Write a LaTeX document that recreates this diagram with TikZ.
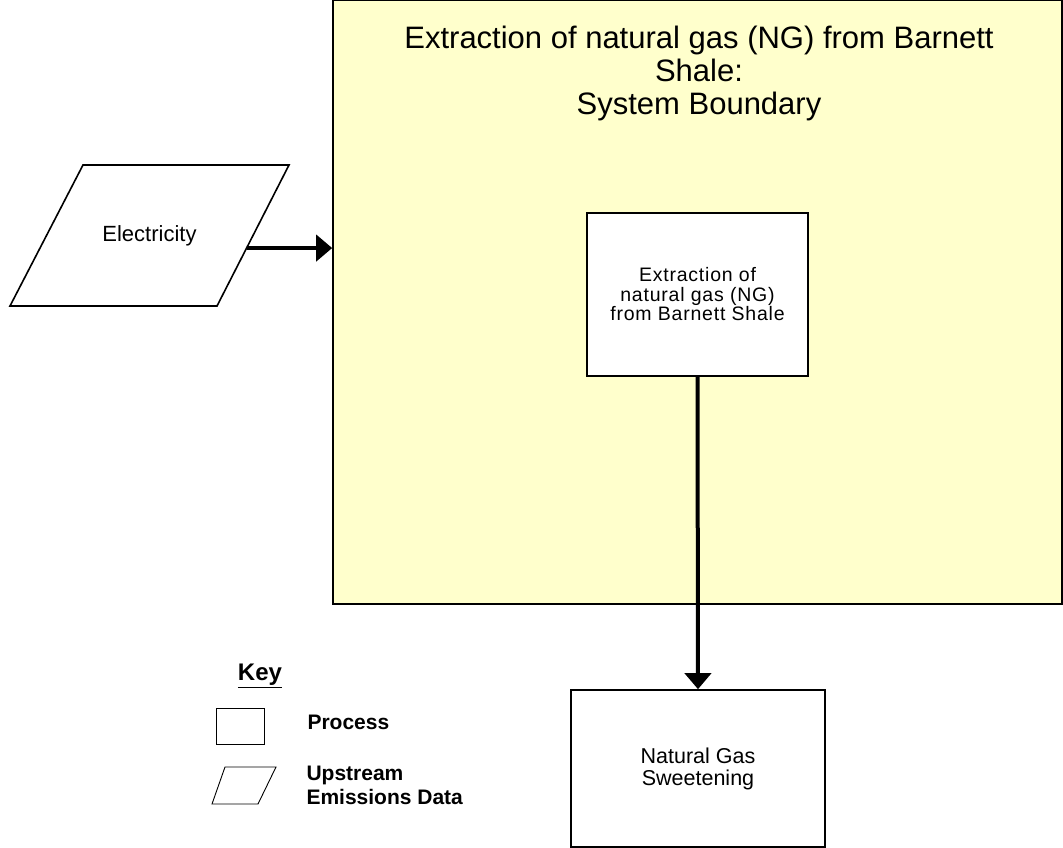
\documentclass[tikz,border=0pt]{standalone}
\usepackage{fontspec}
\setmainfont{Liberation Sans}
\usetikzlibrary{
  calc, % For coordinate calculations
  arrows.meta % For arrow tips
}
\definecolor{boundyellow}{RGB}{255,255,204}

\begin{document}
\begin{tikzpicture}[
      x=1pt, y=-1pt, % pixel-like units, y pointing down
      >={Triangle[length=16pt, width=26pt]}, % Default arrow tip
      process/.style={draw, line width=1.6pt, fill=white, align=center},
      upstream/.style={draw, line width=1.6pt, fill=white, line join=miter},
      flow/.style={line width=4pt, ->}, % Style for flow arrows
      keytext/.style={anchor=west, align=left, font=\bfseries\fontsize{21}{24}\selectfont},
    ]
    \useasboundingbox (0,0) rectangle (1063,848);

    % Systemgrenze
    \node[draw, line width=1.6pt, fill=boundyellow, minimum width=729pt,
      minimum height=604pt, inner sep=0pt] (sysbound) at (697.5,302) {};
    \node[align=center, font=\fontsize{31}{33}\selectfont] (title) at (699,73)
      {Extraction of natural gas (NG) from Barnett\\Shale:\\System Boundary};

    % Prozesse
    \node[process, minimum width=221pt, minimum height=163pt,
      font=\fontsize{19.5}{19.5}\selectfont\addfontfeature{LetterSpace=4}] (extract) at (697.5,294.5)
      {Extraction of\\natural gas (NG)\\from Barnett Shale};
    \node[process, minimum width=254pt, minimum height=157pt,
      font=\fontsize{21.5}{22}\selectfont] (sweet) at (698,768.5)
      {Natural Gas\\Sweetening};

    % Vorkette (Parallelogramm)
    \coordinate (elecnw) at (83,165);
    \coordinate (elecne) at (289,165);
    \coordinate (elecse) at (217,306);
    \coordinate (elecsw) at (10,306);
    \draw[upstream] (elecnw) -- (elecne) -- (elecse) -- (elecsw) -- cycle;
    \node[font=\fontsize{22}{24}\selectfont] (elec) at (149.5,236) {Electricity};
    \coordinate (elecout) at ($(elecne)!0.589!(elecse)$);

    % Flüsse
    \draw[flow] (elecout) -- (sysbound.west |- elecout);
    \draw[flow] (extract.south) -- (sweet.north);

    % Legende
    \node[font=\bfseries\fontsize{24}{26}\selectfont] (key) at (260,676) {\underline{Key}};
    \node[draw, line width=0.9pt, minimum width=48pt, minimum height=36pt] (keyproc) at (240,726) {};
    \draw[upstream, line width=0.9pt] (225,767) -- (276,767) -- (258,804) -- (212,804) -- cycle;
    \node[keytext] (keyproclabel) at (304,722) {Process};
    \node[keytext] (keyuplabel) at (303,785) {Upstream\\Emissions Data};
  \end{tikzpicture}
\end{document}
